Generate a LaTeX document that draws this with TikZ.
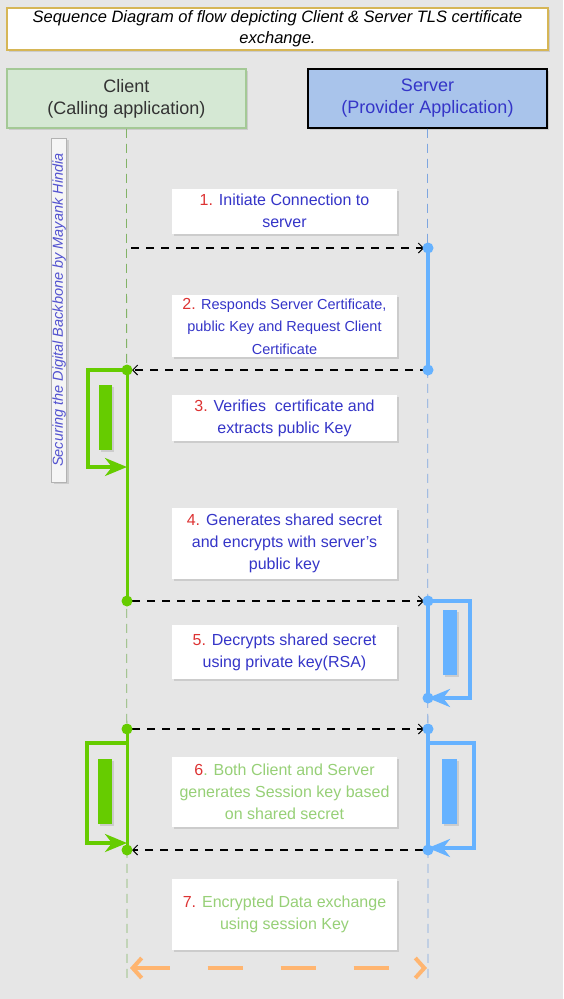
\documentclass[tikz,border=0pt]{standalone}
\usepackage{fontspec}
\setmainfont{Liberation Sans}
\usetikzlibrary{arrows.meta,shadows}

\definecolor{bgGray}{HTML}{E6E6E6}
\definecolor{titleGold}{HTML}{D6B656}
\definecolor{clientFill}{HTML}{D5E8D4}
\definecolor{clientLine}{HTML}{A4C996}
\definecolor{serverFill}{HTML}{A9C4EB}
\definecolor{txtBlue}{HTML}{3535C8}
\definecolor{numRed}{HTML}{DD3333}
\definecolor{txtGreen}{HTML}{97D077}
\definecolor{actGreen}{HTML}{66CC00}
\definecolor{actBlue}{HTML}{66B2FF}
\definecolor{lifeGreen}{HTML}{82B366}
\definecolor{lifeBlue}{HTML}{7EA6E0}
\definecolor{xchOrange}{HTML}{FFB570}

\begin{document}
\begin{tikzpicture}[x=1pt, y=-1pt,
  softshadow/.style={drop shadow={opacity=0.25, shadow xshift=2pt, shadow yshift=-2pt}},
  msgbox/.style={fill=white, softshadow, minimum width=225pt, align=center, inner sep=0pt,
    font=\fontsize{16}{22}\selectfont, text=txtBlue},
  hdrbox/.style={minimum width=239pt, minimum height=59pt, align=center, line width=1.5pt,
    font=\fontsize{18}{22}\selectfont, softshadow},
  msgline/.style={black, line width=1.1pt, dash pattern=on 8pt off 7pt,
    -{Straight Barb[length=5pt, width=10pt, line width=1pt]}},
  lifeline/.style={line width=0.8pt, dash pattern=on 9pt off 6pt},
  loopc/.style={actGreen, line width=3.5pt, -{Stealth[length=22pt, width=18pt, inset=7pt]}},
  loops/.style={actBlue, line width=3.5pt, -{Stealth[length=22pt, width=18pt, inset=7pt]}}]

% Background
\fill[bgGray] (0,0) rectangle (563,999);
\useasboundingbox (0,0) rectangle (563,999);

% Title and participants
\node[draw=titleGold, line width=1.5pt, fill=white, softshadow, minimum width=541pt, minimum height=42pt,
  align=center, inner sep=0pt, font=\fontsize{16.5}{21}\selectfont\itshape] (title) at (277.5,29)
  {Sequence Diagram of flow depicting Client \& Server TLS certificate\\exchange.};
\node[hdrbox, draw=clientLine, fill=clientFill, text=black!80] (client) at (126.5,98.5)
  {Client\\(Calling application)};
\node[hdrbox, draw=black, fill=serverFill, text=txtBlue] (server) at (427.5,98.5)
  {Server\\(Provider Application)};

% Credit strip
\node[draw=black!30, fill=black!4, softshadow, minimum width=15pt, minimum height=344pt, inner sep=0pt]
  (credit) at (59,310)
  {\rotatebox{90}{\fontsize{14.5}{16}\selectfont\itshape\color{txtBlue!85}Securing the Digital Backbone by Mayank Hindia}};

% Points on the lifelines
\coordinate (cEnd) at (127,978);
\coordinate (sEnd) at (428,978);
\coordinate (cM1) at (131,248);
\coordinate (sA) at (428,248);
\coordinate (sB) at (428,370);
\coordinate (cB) at (127,370);
\coordinate (cL1) at (127,467);
\coordinate (cC) at (127,601);
\coordinate (sC) at (428,601);
\coordinate (sL1) at (428,698);
\coordinate (cD) at (127,729);
\coordinate (sD) at (428,729);
\coordinate (cL2) at (127,743);
\coordinate (cL2e) at (127,843);
\coordinate (sL2) at (428,743);
\coordinate (sL2e) at (428,848);
\coordinate (cE) at (127,850);
\coordinate (sE) at (428,850);
\coordinate (xL) at (130,968);
\coordinate (xR) at (427,968);

% Lifelines
\draw[lifeline, lifeGreen] (client.south) -- (cEnd);
\draw[lifeline, lifeBlue] (server.south) -- (sEnd);

% Activations
\draw[actBlue, line width=4pt] (sA) -- (sB);
\draw[actGreen, line width=3pt] (cB) -- (cC);
\draw[actBlue, line width=4pt] (sC) -- (sL1);
\draw[actGreen, line width=3pt] (cD) -- (cE);
\draw[actBlue, line width=4pt] (sD) -- (sE);

% Self calls
\draw[loopc] (cB) -- ++(-39,0) |- (cL1);
\path[fill=actGreen, softshadow] (99,385) rectangle (112,450);
\draw[loops] (sC) -- ++(42,0) |- (sL1);
\path[fill=actBlue, softshadow] (443,610) rectangle (457,675);
\draw[loopc] (cL2) -- ++(-40,0) |- (cL2e);
\path[fill=actGreen, softshadow] (98,759) rectangle (112,824);
\draw[loops] (sL2) -- ++(46,0) |- (sL2e);
\path[fill=actBlue, softshadow] (442,759) rectangle (457,824);

% Messages
\draw[msgline, shorten >=4pt] (cM1) -- (sA);
\draw[msgline, shorten >=5pt] (sB) -- (cB);
\draw[msgline, shorten <=5pt, shorten >=4pt] (cC) -- (sC);
\draw[msgline, shorten <=5pt, shorten >=4pt] (cD) -- (sD);
\draw[msgline, shorten <=5pt, shorten >=5pt] (sE) -- (cE);

% Dots
\foreach \p in {sA, sB, sC, sL1, sD, sE}
  \fill[actBlue] (\p) circle (5.5pt);
\foreach \p in {cB, cC, cD, cE}
  \fill[actGreen] (\p) circle (5.5pt);

% Data exchange
\draw[xchOrange, line width=4pt, dash pattern=on 35pt off 38pt,
  {Straight Barb[length=9pt, width=20pt, line width=4pt]}-{Straight Barb[length=9pt, width=20pt, line width=4pt]}]
  (xL) -- (xR);

% Step labels
\node[msgbox, minimum height=45pt] (step1) at (284.5,211)
  {{\color{numRed}1.} Initiate Connection to\\server};
\node[msgbox, minimum height=62pt, font=\fontsize{14.5}{22.5}\selectfont] (step2) at (284.5,326)
  {{\fontsize{16}{22}\selectfont\color{numRed}2.} Responds Server Certificate,\\public Key and Request Client\\Certificate};
\node[msgbox, minimum height=46pt] (step3) at (284.5,418)
  {{\color{numRed}3.} Verifies\ \ certificate and\\extracts public Key};
\node[msgbox, minimum height=71pt] (step4) at (284.5,543.5)
  {{\color{numRed}4.} Generates shared secret\\and encrypts with server's\\public key};
\node[msgbox, minimum height=54pt] (step5) at (284.5,652)
  {{\color{numRed}5.} Decrypts shared secret\\using private key(RSA)};
\node[msgbox, minimum height=70pt, text=txtGreen] (step6) at (284.5,792)
  {{\color{numRed}6}. Both Client and Server\\generates Session key based\\on shared secret};
\node[msgbox, minimum height=71pt, text=txtGreen] (step7) at (284.5,914)
  {{\color{numRed}7.} Encrypted Data exchange\\using session Key};
\end{tikzpicture}
\end{document}
